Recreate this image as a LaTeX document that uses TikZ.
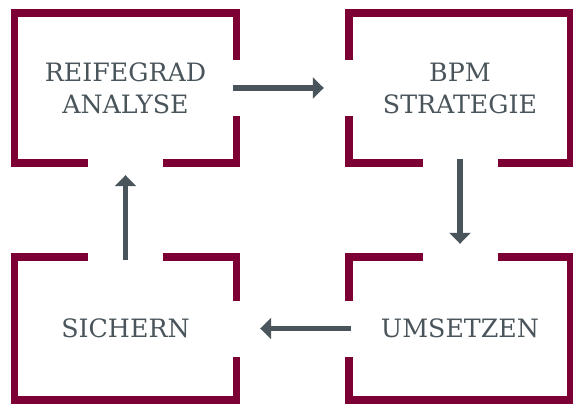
\documentclass[tikz,border=0pt]{standalone}
\usepackage{fontspec}
\setmainfont{DejaVu Serif}
\usetikzlibrary{arrows.meta}
\usetikzlibrary{positioning}
\definecolor{bordeaux}{HTML}{7D0034}
\definecolor{slate}{HTML}{4A555B}
\tikzset{>={Triangle[length=11pt,width=21pt]}}

\begin{document}
\begin{tikzpicture}[x=1pt, y=-1pt,
	box/.style={rectangle, inner sep=0pt, text=slate, align=center, font=\fontsize{25.3}{32}\selectfont},
	topbox/.style={box, minimum width=222pt, minimum height=150pt},
	lowbox/.style={box, minimum width=222pt, minimum height=143pt},
	frame/.style={draw=bordeaux, line width=7.5pt, line cap=butt, line join=miter},
	flow/.style={->, draw=slate, line width=5.5pt},
	node distance=334.5pt, on grid]
	\useasboundingbox (0,0) rectangle (573,406);

	\node[topbox] (reife) at (125.5,88) {REIFEGRAD\\ANALYSE};
	\node[topbox] (bpm) [right=of reife] {BPM\\STRATEGIE};
	\node[lowbox] (ums) [below=240.5pt of bpm] {UMSETZEN};
	\node[lowbox] (sich) [left=of ums] {SICHERN};

	% broken frames, open towards the arrows
	\draw[frame] ([xshift=-37.5pt]reife.south) -| (reife.north west) -| ([yshift=28pt]reife.east);
	\draw[frame] ([yshift=-28pt]reife.east) |- ([xshift=37.5pt]reife.south);

	\draw[frame] ([yshift=28pt]bpm.west) |- (bpm.north east) |- ([xshift=37.5pt]bpm.south);
	\draw[frame] ([yshift=-28pt]bpm.west) |- ([xshift=-37.5pt]bpm.south);

	\draw[frame] ([xshift=37.5pt]ums.north) -| (ums.south east) -| ([yshift=-28pt]ums.west);
	\draw[frame] ([yshift=28pt]ums.west) |- ([xshift=-37.5pt]ums.north);

	\draw[frame] ([xshift=-37.5pt]sich.north) -| (sich.south west) -| ([yshift=-28pt]sich.east);
	\draw[frame] ([yshift=28pt]sich.east) |- ([xshift=37.5pt]sich.north);

	\draw[flow, shorten <=-3.5pt, shorten >=25pt] (reife.east) -- (bpm.west);
	\draw[flow, shorten <=-4pt, shorten >=13pt] (bpm.south) -- (ums.north);
	\draw[flow, shorten <=-2pt, shorten >=23.5pt] (ums.west) -- (sich.east);
	\draw[flow, shorten <=-3pt, shorten >=12pt] (sich.north) -- (reife.south);
\end{tikzpicture}
\end{document}
